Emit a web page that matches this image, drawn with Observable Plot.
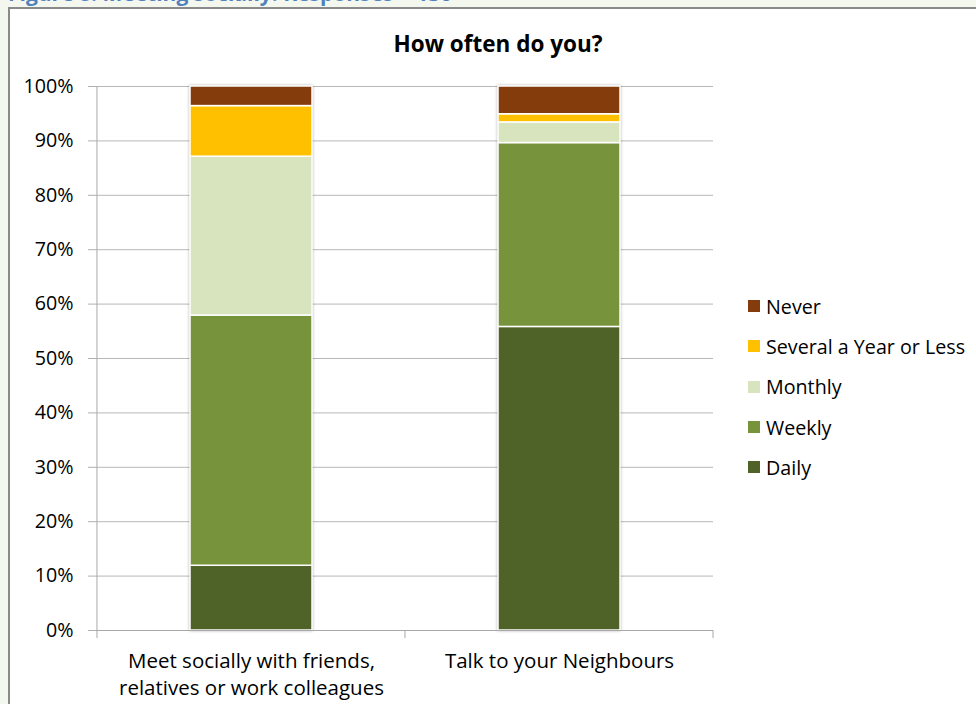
<!DOCTYPE html>
<html><head><meta charset="utf-8">
<script src="https://cdn.jsdelivr.net/npm/d3@7"></script>
<script src="https://cdn.jsdelivr.net/npm/@observablehq/plot@0.6"></script>
<style>
body{margin:0;background:#f4f7ee;width:976px;height:704px;overflow:hidden;position:relative;font-family:"Open Sans","Liberation Sans",sans-serif;}
#caption{position:absolute;left:8px;top:-19px;font-weight:bold;font-size:21px;line-height:24px;color:#4f81bd;white-space:nowrap;}
#frame{position:absolute;left:8px;top:7px;width:1000px;height:740px;border:2px solid #8a8a8a;background:#fff;}
#chart{position:absolute;left:0;top:0;}
#title{position:absolute;left:298px;width:400px;top:30px;text-align:center;font-weight:bold;font-size:22.5px;line-height:28px;color:#000;}
#legend{position:absolute;left:748px;top:286px;}
.item{height:40.3px;display:flex;align-items:center;font-size:19.7px;color:#000;white-space:nowrap;}
.sw{width:12px;height:12px;margin-right:6px;}
#chart svg g[aria-label="y-axis tick label"]{font-size:19.7px;}
#chart svg g[aria-label="x-axis tick label"]{font-size:20.5px;}
</style></head>
<body>
<div id="caption">Figure 8: Meeting socially: Responses = 130</div>
<div id="frame"></div>
<div id="chart"></div>
<div id="title">How often do you?</div>
<div id="legend"></div>
<script>
const categories = ["Meet socially with friends,\nrelatives or work colleagues", "Talk to your Neighbours"];
const frequencies = ["Daily", "Weekly", "Monthly", "Several a Year or Less", "Never"];
const colors = ["#4f6228", "#77933c", "#d7e4bd", "#ffc000", "#843c0c"];
const meetValues = [11.9, 46.0, 29.2, 9.3, 3.6];
const talkValues = [55.8, 33.8, 3.8, 1.5, 5.1];
const yTicks = [0, 10, 20, 30, 40, 50, 60, 70, 80, 90, 100];

const seriesByCategory = [meetValues, talkValues];
const rows = [];
categories.forEach((c, ci) => frequencies.forEach((f, fi) => rows.push({cat: c, freq: f, value: seriesByCategory[ci][fi]})));

const plot = Plot.plot({
  width: 976, height: 704,
  marginLeft: 96, marginRight: 263, marginTop: 86, marginBottom: 74,
  style: {fontFamily: "'Open Sans', 'Liberation Sans', sans-serif", fontSize: "19.7px", color: "#000", background: "transparent", overflow: "visible"},
  x: {domain: categories, paddingInner: 0.604, paddingOuter: 0.302, label: null},
  y: {domain: [0, 100], label: null},
  color: {domain: frequencies, range: colors},
  marks: [
    Plot.gridY(yTicks, {stroke: "#b8b8b8", strokeOpacity: 1}),
    Plot.axisY(yTicks, {tickSize: 8, tickPadding: 15, tickFormat: d => d + "%", stroke: "#b0b0b0", fill: "#000", label: null, fontSize: 19.7}),
    Plot.barY(rows, {x: "cat", y: "value", fill: "freq", stroke: "white", strokeWidth: 1.5}),
    Plot.ruleY([0], {stroke: "#a8a8a8"}),
    Plot.axisX({tickSize: 0, tickPadding: 18, label: null, lineHeight: 1.32, fill: "#000", fontSize: 20.5})
  ]
});
document.getElementById("chart").appendChild(plot);

// axis line and category boundary ticks from the scales
const xs = plot.scale("x"), ys = plot.scale("y");
const svg = d3.select(plot);
const y0 = ys.apply(0), y1 = ys.apply(100);
const gap = xs.step * xs.paddingInner / 2;
const bounds = categories.map(c => xs.apply(c) - gap);
bounds.push(xs.apply(categories[categories.length - 1]) + xs.bandwidth + gap);
const g = svg.append("g").attr("stroke", "#a8a8a8");
g.append("line").attr("x1", bounds[0]).attr("x2", bounds[0]).attr("y1", y1).attr("y2", y0);
bounds.forEach(b => g.append("line").attr("x1", b).attr("x2", b).attr("y1", y0).attr("y2", y0 + 8));
svg.selectAll("g[aria-label='bar']").style("filter", "drop-shadow(0 0 1.5px rgba(0,0,0,0.3))");

// legend
const legend = d3.select("#legend");
frequencies.slice().reverse().forEach(f => {
  const it = legend.append("div").attr("class", "item");
  it.append("div").attr("class", "sw").style("background", colors[frequencies.indexOf(f)]);
  it.append("span").text(f);
});
</script>
</body></html>
